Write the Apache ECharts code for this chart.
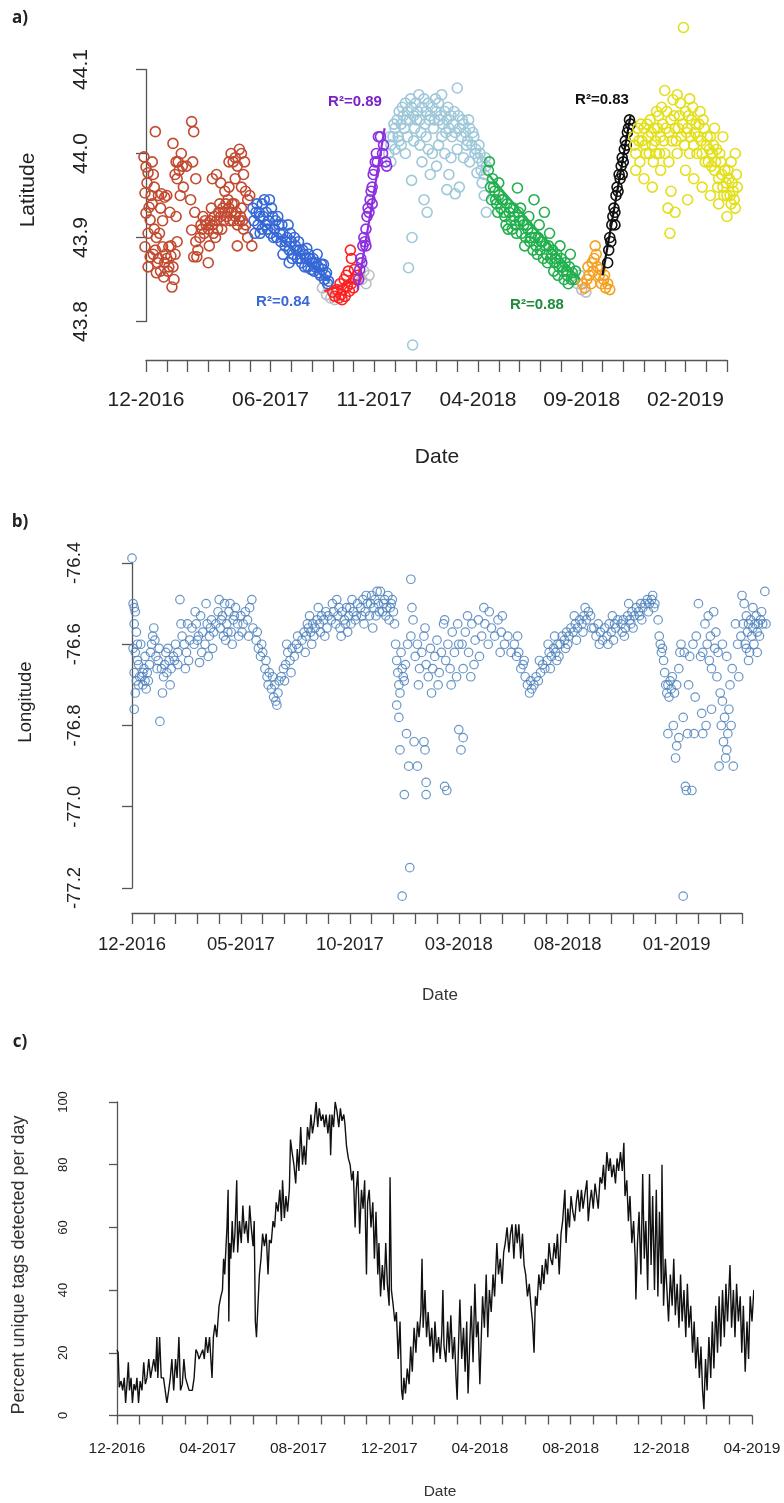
<!DOCTYPE html>
<html><head><meta charset="utf-8">
<script src="https://cdn.jsdelivr.net/npm/echarts@6/dist/echarts.min.js"></script>
<style>html,body{margin:0;padding:0;background:#fff}#c{width:784px;height:1503px}</style>
</head><body><div id="c"></div>
<script>
// x values: months since 1 Dec 2016
const aTickLabels = {0:'12-2016',6:'06-2017',11:'11-2017',16:'04-2018',21:'09-2018',26:'02-2019'};
const bTickLabels = {0:'12-2016',5:'05-2017',10:'10-2017',15:'03-2018',20:'08-2018',25:'01-2019'};
const cTickLabels = {0:'12-2016',4:'04-2017',8:'08-2017',12:'12-2017',16:'04-2018',20:'08-2018',24:'12-2018',28:'04-2019'};

const latGrey = [[8.5,43.84],[8.7,43.832],[8.9,43.828],[9.1,43.826],[8.8,43.84],[9.2,43.835],[10.3,43.87],[10.5,43.86],[10.6,43.845],[10.75,43.855],[10.4,43.85],[20.6,43.852],[20.8,43.845],[21.0,43.838],[21.2,43.835],[20.9,43.855]];
const latBrown = [[-0.1,43.996],[0.0,43.984],[0.1,43.977],[0.05,43.965],[-0.05,43.953],[0.15,43.936],[0.0,43.929],[0.2,43.921],[0.1,43.905],[-0.05,43.889],[0.2,43.877],[0.1,43.865],[0.45,44.026],[0.3,43.99],[0.35,43.975],[0.4,43.96],[0.25,43.95],[0.5,43.9],[0.45,43.885],[0.55,43.87],
[0.6,43.95],[0.75,43.952],[0.9,43.948],[0.65,43.905],[0.8,43.889],[0.95,43.88],[1.0,43.875],[1.1,43.889],[1.2,43.878],[1.3,43.865],[0.85,43.853],[1.05,43.86],[1.25,43.841],[1.4,43.88],[1.5,43.895],[1.15,43.93],[0.7,43.935],[1.45,43.925],
[1.3,44.012],[1.45,43.99],[1.6,43.98],[1.7,44.0],[1.5,43.97],[1.8,43.96],[1.95,43.985],[1.4,43.975],[1.65,43.95],
[2.2,44.038],[2.3,44.026],[2.25,43.99],[2.4,43.97],[2.15,43.945],[2.35,43.93],[2.2,43.909],[2.4,43.895],[2.3,43.877],[2.5,43.885],
[2.6,43.9],[2.7,43.91],[2.8,43.905],[2.9,43.915],[3.0,43.91],[3.1,43.92],[3.2,43.915],[3.3,43.925],[3.4,43.92],[3.5,43.93],[3.6,43.925],[3.7,43.935],[3.8,43.93],[3.9,43.925],[4.0,43.935],[4.1,43.93],[4.2,43.92],[4.3,43.925],[4.4,43.915],[4.5,43.92],[4.7,43.91],[4.9,43.9],[2.75,43.925],[3.05,43.89],[3.35,43.9],[3.65,43.91],[3.95,43.945],[4.25,43.94],[4.6,43.935],[3.15,43.935],
[3.4,43.975],[3.6,43.965],[3.2,43.97],[4.1,44.0],[4.3,43.995],[4.2,43.99],[4.5,44.005],[4.4,43.985],[4.0,43.96],[4.6,43.96],[4.8,43.955],[4.9,43.945],[4.7,43.975],[5.0,43.95],[3.8,43.955],
[2.45,43.877],[4.4,43.89],[5.1,43.89],[3.0,43.87],
[2.65,43.915],[2.85,43.92],[3.25,43.905],[3.45,43.91],[3.55,43.94],[3.75,43.92],[3.85,43.94],[4.05,43.92],[4.15,43.94],[4.35,43.93],[4.55,43.925],[4.65,43.92],[4.8,43.915],[0.35,43.88],[0.6,43.875],[0.7,43.86],[0.9,43.87],[1.1,43.865],[1.35,43.85],[0.5,43.858],[1.2,43.89],[0.4,43.91],[0.8,43.92],[1.0,43.95],[0.3,43.94],[1.55,43.99],[1.75,43.985],[4.0,43.99],[4.3,43.97],[4.75,43.99],[4.6,44.0]];
const latBlue = [[5.15,43.935],[5.2,43.92],[5.25,43.905],[5.3,43.93],[5.4,43.915],[5.5,43.925],[5.6,43.94],[5.7,43.945],[5.8,43.93],[5.85,43.91],[5.9,43.92],[6.0,43.905],[6.1,43.925],[6.2,43.91],[6.3,43.9],[6.4,43.915],[6.5,43.895],[6.6,43.905],[6.7,43.89],[6.8,43.9],[6.85,43.915],[6.9,43.885],[7.0,43.895],[7.1,43.88],[7.2,43.89],[7.3,43.875],[7.4,43.885],[7.5,43.87],[7.6,43.88],[7.7,43.875],[7.8,43.865],[7.9,43.875],[8.0,43.87],[8.1,43.86],[8.2,43.87],[8.3,43.865],[8.4,43.855],[8.5,43.862],[8.6,43.85],[8.7,43.858],[8.8,43.848],[5.5,43.905],[6.05,43.935],[6.6,43.88],[7.15,43.9],[7.75,43.887],[8.25,43.88],[8.55,43.868],[5.95,43.945],[6.35,43.925],
[5.35,43.94],[5.45,43.93],[5.65,43.925],[5.75,43.915],[6.15,43.9],[6.25,43.92],[6.45,43.905],[6.55,43.915],[6.75,43.895],[6.95,43.905],[7.05,43.875],[7.25,43.885],[7.35,43.895],[7.45,43.875],[7.55,43.885],[7.65,43.865],[7.85,43.88],[7.95,43.862],[8.05,43.875],[8.15,43.865],[8.35,43.858],[8.45,43.868],[8.65,43.855],[8.75,43.845],[5.6,43.91],[6.9,43.87]];
const latRed = [[9.0,43.835],[9.1,43.83],[9.2,43.838],[9.3,43.828],[9.4,43.832],[9.5,43.838],[9.6,43.83],[9.7,43.842],[9.8,43.836],[9.9,43.845],[10.0,43.84],[10.1,43.85],[9.35,43.845],[9.55,43.85],[9.75,43.86],[9.85,43.885],[9.9,43.875],[10.05,43.862],[9.65,43.855],[10.2,43.855],[9.45,43.826]];
const latPurple = [[10.25,43.85],[10.3,43.862],[10.35,43.875],[10.4,43.87],[10.45,43.89],[10.5,43.9],[10.55,43.895],[10.6,43.91],[10.65,43.925],[10.7,43.935],[10.75,43.93],[10.8,43.945],[10.85,43.955],[10.9,43.96],[10.95,43.975],[11.0,43.98],[11.05,43.99],[11.1,44.0],[11.2,44.02],[11.15,43.99],[11.3,44.02],[11.4,44.0],[11.55,43.99],[11.45,44.01],[11.6,43.985],[10.6,43.89],[10.9,43.94]];
const latLightBlue = [[11.7,44.0],[11.8,44.01],[11.9,44.02],[12.0,44.03],[12.1,44.04],[12.2,44.05],[12.3,44.035],[12.4,44.045],[12.5,44.06],[12.6,44.05],[12.7,44.04],[12.8,44.055],[12.9,44.045],[13.0,44.06],[13.1,44.05],[13.2,44.04],[13.3,44.055],[13.4,44.065],[13.5,44.05],[13.6,44.06],[13.7,44.045],[13.8,44.055],[13.9,44.04],[14.0,44.05],[14.1,44.06],[14.2,44.045],[14.3,44.035],[14.4,44.05],[14.5,44.04],[14.6,44.03],[14.7,44.045],[14.8,44.035],[14.9,44.025],[15.0,44.078],[15.1,44.03],[15.2,44.02],[15.3,44.035],[15.4,44.025],[15.5,44.015],[15.6,44.03],[15.7,44.01],[15.8,44.02],[15.9,44.005],[16.0,43.995],[16.1,44.0],[16.2,43.99],[16.3,43.975],[16.4,43.985],
[11.8,43.99],[12.0,44.005],[12.3,44.01],[12.6,44.02],[12.9,44.015],[13.2,44.01],[13.5,44.02],[13.8,44.0],[14.1,44.01],[14.4,44.0],[14.7,43.995],[15.0,44.005],[15.3,43.995],[15.6,43.99],[16.2,43.965],[12.5,44.0],[13.3,43.99],[14.0,43.985],
[12.82,43.9],[12.65,43.864],[12.85,43.772],[13.4,43.945],[13.55,43.93],[14.5,43.957],[15.1,43.96],[14.9,43.952],[12.8,43.968],[15.95,43.977],[16.4,43.93],[13.7,43.975],[14.6,43.975],[16.3,43.95],
[11.75,44.02],[11.95,44.035],[12.15,44.02],[12.35,44.055],[12.45,44.03],[12.55,44.04],[12.75,44.065],[12.95,44.03],[13.05,44.04],[13.15,44.07],[13.25,44.025],[13.45,44.035],[13.65,44.04],[13.85,44.03],[13.95,44.065],[14.15,44.04],[14.25,44.02],[14.45,44.025],[14.55,44.055],[14.75,44.02],[14.85,44.05],[15.05,44.045],[15.25,44.04],[15.45,44.01],[15.55,44.04],[15.75,44.025],[15.85,44.0],[16.05,44.01],[16.15,43.98],[16.35,43.995],[14.25,44.07],[13.6,44.005],[12.2,44.015]];
const latGreen = [[16.5,43.98],[16.6,43.96],[16.65,43.945],[16.7,43.97],[16.8,43.955],[16.9,43.94],[17.0,43.95],[17.1,43.935],[17.2,43.945],[17.3,43.925],[17.4,43.94],[17.5,43.93],[17.6,43.92],[17.7,43.935],[17.8,43.915],[17.9,43.959],[18.0,43.92],[18.1,43.905],[18.2,43.915],[18.3,43.9],[18.4,43.91],[18.5,43.895],[18.6,43.905],[18.7,43.945],[18.8,43.89],[18.9,43.9],[19.0,43.885],[19.1,43.895],[19.2,43.93],[19.3,43.88],[19.4,43.89],[19.5,43.875],[19.6,43.885],[19.7,43.87],[19.8,43.88],[19.9,43.865],[20.0,43.875],[20.1,43.86],[20.2,43.87],[20.3,43.855],[20.4,43.865],[20.5,43.85],[20.7,43.86],[16.55,43.99],[17.0,43.965],[17.45,43.91],[18.05,43.935],[18.45,43.925],[18.95,43.915],[19.45,43.905],[19.95,43.89],[20.45,43.88],
[16.75,43.96],[16.85,43.945],[16.95,43.93],[17.15,43.945],[17.25,43.93],[17.35,43.915],[17.55,43.935],[17.65,43.91],[17.75,43.925],[17.85,43.905],[17.95,43.93],[18.15,43.92],[18.25,43.89],[18.35,43.915],[18.55,43.9],[18.65,43.885],[18.75,43.9],[18.85,43.88],[19.05,43.895],[19.15,43.875],[19.25,43.89],[19.35,43.87],[19.55,43.88],[19.65,43.86],[19.75,43.875],[19.85,43.855],[20.05,43.865],[20.15,43.85],[20.25,43.86],[20.35,43.845],[20.55,43.858],[20.65,43.85]];
const latOrange = [[21.05,43.845],[21.15,43.84],[21.25,43.85],[21.35,43.855],[21.45,43.845],[21.55,43.86],[21.6,43.875],[21.65,43.89],[21.7,43.88],[21.75,43.865],[21.85,43.855],[21.95,43.845],[22.05,43.85],[22.15,43.84],[22.25,43.845],[22.35,43.838],[21.5,43.87],[21.9,43.862],[22.1,43.855],[21.3,43.865]];
const latBlack = [[22.25,43.87],[22.3,43.885],[22.35,43.9],[22.4,43.895],[22.45,43.915],[22.5,43.925],[22.55,43.935],[22.6,43.93],[22.65,43.95],[22.7,43.96],[22.75,43.955],[22.8,43.975],[22.85,43.97],[22.9,43.985],[22.95,43.995],[23.0,43.99],[23.05,44.005],[23.1,44.015],[23.15,44.01],[23.2,44.025],[23.25,44.03],[23.3,44.04],[23.35,44.035],[22.6,43.915],[22.95,43.975]];
const latYellow = [[23.5,44.02],[23.6,44.0],[23.7,44.03],[23.8,43.99],[23.9,44.015],[24.0,44.03],[24.1,44.0],[24.2,44.02],[24.3,44.04],[24.4,44.01],[24.5,44.03],[24.6,44.0],[24.7,44.045],[24.8,44.02],[24.9,44.035],[25.0,44.0],[25.1,44.05],[25.2,44.025],[25.3,44.04],[25.4,44.064],[25.5,44.03],[25.6,44.07],[25.7,44.045],[25.8,44.02],[25.9,44.15],[26.0,44.05],[26.1,44.03],[26.2,44.065],[26.3,44.04],[26.4,44.01],[26.5,44.035],[26.6,44.02],[26.7,44.05],[26.8,44.0],[26.9,44.03],[27.0,44.01],[27.1,43.99],[27.2,44.02],[27.3,44.0],[27.4,43.98],[27.5,44.005],[27.6,43.97],[27.7,43.99],[27.8,43.96],[27.9,43.98],[28.0,43.95],[28.1,43.97],[28.2,43.94],[28.3,43.955],[28.4,43.935],[28.5,43.96],
[23.6,43.98],[24.0,43.97],[24.4,43.96],[24.8,43.98],[25.2,43.99],[25.6,44.0],[26.0,43.98],[26.4,43.97],[26.8,43.96],[27.2,43.95],[27.6,43.94],[28.0,43.925],[28.4,44.0],[27.8,44.02],[27.4,44.03],[26.2,44.0],[24.6,44.05],[25.0,44.075],[25.3,43.955],[25.25,43.905],[25.5,43.93],[26.1,43.945],[25.15,43.935],[28.2,43.99],
[23.55,44.01],[23.75,44.015],[23.85,44.035],[24.05,44.01],[24.15,44.035],[24.25,44.0],[24.35,44.025],[24.45,43.99],[24.55,44.015],[24.65,44.03],[24.75,44.0],[24.85,44.055],[24.95,44.015],[25.05,44.03],[25.35,44.015],[25.45,44.045],[25.55,44.015],[25.65,44.03],[25.75,44.06],[25.85,44.035],[25.95,44.01],[26.05,44.025],[26.15,44.045],[26.25,44.02],[26.35,44.055],[26.45,44.025],[26.55,44.0],[26.65,44.035],[26.75,44.015],[26.85,44.04],[26.95,43.99],[27.05,44.02],[27.15,44.005],[27.25,43.985],[27.35,44.01],[27.45,43.99],[27.55,43.96],[27.65,44.0],[27.75,43.975],[27.85,43.95],[27.95,43.965],[28.05,43.98],[28.15,43.95],[28.25,43.965],[28.35,43.945],[28.45,43.975]];
// fitted segments (start, end)
const fitBlue = [[5.2,43.925],[8.8,43.848]];
const fitRed = [[8.6,43.836],[10.0,43.848]];
const fitPurple = [[10.2,43.838],[11.5,44.03]];
const fitGreen = [[16.5,43.975],[20.9,43.85]];
const fitBlack = [[22.0,43.855],[23.35,44.045]];
const r2Labels = ['R\u00b2=0.84','R\u00b2=0.89','R\u00b2=0.88','R\u00b2=0.83'];

const lonPoints = [[0.0,-76.388],[0.05,-76.5],[0.1,-76.51],[0.15,-76.52],[0.1,-76.55],[0.2,-76.57],[0.05,-76.61],[0.15,-76.62],[0.25,-76.6],[0.1,-76.67],[0.2,-76.69],[0.3,-76.7],[0.15,-76.72],[0.35,-76.68],[0.1,-76.76],[0.3,-76.65],
[0.45,-76.68],[0.5,-76.7],[0.55,-76.66],[0.6,-76.69],[0.65,-76.71],[0.7,-76.67],[0.75,-76.69],[0.8,-76.65],[0.85,-76.62],[0.9,-76.6],[0.95,-76.58],[1.0,-76.56],[1.05,-76.59],[1.1,-76.63],[1.15,-76.66],[1.2,-76.64],[1.28,-76.79],[0.6,-76.63],[0.4,-76.6],[1.25,-76.61],
[1.35,-76.66],[1.45,-76.68],[1.5,-76.65],[1.6,-76.67],[1.7,-76.64],[1.8,-76.66],[1.9,-76.63],[1.55,-76.62],[1.75,-76.7],[1.4,-76.72],[1.65,-76.61],
[2.0,-76.6],[2.1,-76.62],[2.2,-76.49],[2.25,-76.55],[2.3,-76.58],[2.4,-76.6],[2.5,-76.62],[2.55,-76.55],[2.6,-76.64],[2.65,-76.59],[2.1,-76.65],[2.45,-76.66],
[2.75,-76.56],[2.85,-76.6],[2.95,-76.55],[3.05,-76.58],[3.15,-76.53],[3.25,-76.57],[3.35,-76.6],[3.45,-76.55],[3.55,-76.58],[3.65,-76.54],[3.75,-76.57],[2.9,-76.52],[3.2,-76.62],[3.5,-76.63],[3.1,-76.645],[3.4,-76.5],[3.7,-76.61],
[3.85,-76.55],[3.95,-76.52],[4.05,-76.56],[4.15,-76.53],[4.25,-76.5],[4.35,-76.55],[4.45,-76.52],[4.55,-76.57],[4.65,-76.54],[4.75,-76.51],[4.85,-76.55],[4.0,-76.49],[4.3,-76.59],[4.6,-76.6],[4.9,-76.58],[4.2,-76.58],[4.5,-76.5],
[5.0,-76.53],[5.1,-76.55],[5.2,-76.52],[5.3,-76.54],[5.4,-76.51],[5.5,-76.49],[5.55,-76.56],[5.05,-76.57],[5.35,-76.58],
[5.7,-76.59],[5.8,-76.61],[5.9,-76.63],[6.0,-76.62],[6.1,-76.66],[6.2,-76.68],[6.3,-76.67],[5.75,-76.57],[5.95,-76.6],[6.15,-76.64],[6.25,-76.7],
[6.4,-76.71],[6.5,-76.73],[6.55,-76.7],[6.6,-76.74],[6.7,-76.72],[6.75,-76.69],[6.45,-76.68],[6.65,-76.75],
[6.85,-76.68],[6.95,-76.66],[7.05,-76.65],[7.15,-76.62],[7.25,-76.64],[7.35,-76.61],[7.45,-76.63],[7.55,-76.6],[7.65,-76.61],[7.0,-76.69],[7.3,-76.67],[7.6,-76.58],[7.1,-76.6],
[7.8,-76.59],[7.9,-76.57],[8.0,-76.58],[8.1,-76.56],[8.2,-76.57],[8.3,-76.55],[8.4,-76.56],[8.5,-76.54],[8.6,-76.55],[8.7,-76.53],[8.8,-76.54],[8.9,-76.52],[9.0,-76.53],[7.95,-76.62],[8.25,-76.6],[8.55,-76.51],[8.85,-76.58],[8.15,-76.53],
[9.15,-76.54],[9.25,-76.52],[9.35,-76.55],[9.45,-76.53],[9.55,-76.56],[9.65,-76.52],[9.75,-76.54],[9.85,-76.51],[9.95,-76.53],[10.05,-76.55],[10.15,-76.52],[10.25,-76.54],[10.35,-76.5],[9.4,-76.49],[9.9,-76.57],[10.1,-76.49],[9.6,-76.58],
[10.5,-76.51],[10.6,-76.49],[10.7,-76.52],[10.8,-76.5],[10.9,-76.53],[11.0,-76.48],[11.1,-76.51],[11.2,-76.53],[11.3,-76.5],[11.4,-76.47],[11.5,-76.52],[11.6,-76.49],[11.7,-76.51],[11.8,-76.54],[11.9,-76.5],[12.0,-76.52],[10.65,-76.55],[11.25,-76.47],[11.75,-76.48],[11.05,-76.56],[12.05,-76.55],
[12.1,-76.6],[12.15,-76.64],[12.2,-76.67],[12.25,-76.7],[12.3,-76.72],[12.15,-76.75],[12.35,-76.62],[12.4,-76.66],[12.45,-76.68],[12.5,-76.69],[12.55,-76.65],[12.25,-76.78],[12.6,-76.82],[12.3,-76.86],[12.7,-76.9],[12.5,-76.97],[12.75,-77.15],[12.4,-77.22],[12.8,-76.44],[12.85,-76.51],[12.9,-76.54],[12.65,-76.6],[12.8,-76.58],
[13.0,-76.63],[13.1,-76.6],[13.2,-76.66],[13.3,-76.62],[13.4,-76.58],[13.5,-76.65],[13.6,-76.68],[13.7,-76.61],[13.8,-76.66],[13.9,-76.63],[14.0,-76.59],[14.1,-76.67],[14.2,-76.62],[14.3,-76.55],[14.4,-76.64],[14.5,-76.6],[14.6,-76.66],[14.7,-76.57],[14.8,-76.62],[14.9,-76.68],[15.0,-76.6],[13.15,-76.7],[13.45,-76.56],[13.75,-76.72],[14.05,-76.7],[14.35,-76.54],[14.65,-76.7],[14.95,-76.55],
[12.95,-76.84],[13.4,-76.84],[13.45,-76.86],[13.1,-76.9],[13.5,-76.94],[13.5,-76.97],[14.35,-76.95],[14.45,-76.96],[15.0,-76.81],[15.2,-76.83],[15.1,-76.86],
[15.15,-76.6],[15.3,-76.57],[15.45,-76.62],[15.6,-76.55],[15.75,-76.59],[15.9,-76.54],[16.05,-76.58],[16.2,-76.55],[16.35,-76.6],[16.5,-76.56],[16.65,-76.58],[16.8,-76.54],[16.95,-76.57],[17.1,-76.6],[17.25,-76.58],[17.4,-76.62],[15.4,-76.53],[15.95,-76.63],[16.4,-76.52],[16.9,-76.62],[15.2,-76.66],[15.7,-76.65],[16.15,-76.51],[17.0,-76.53],[15.55,-76.68],
[17.55,-76.6],[17.65,-76.63],[17.75,-76.62],[17.85,-76.66],[17.95,-76.65],[18.05,-76.68],[18.15,-76.7],[18.25,-76.72],[18.35,-76.71],[17.7,-76.58],[18.0,-76.64],[18.3,-76.69],
[18.45,-76.7],[18.55,-76.68],[18.65,-76.69],[18.75,-76.67],[18.85,-76.65],[18.95,-76.66],[19.05,-76.64],[19.15,-76.62],[19.25,-76.63],[19.35,-76.61],[19.45,-76.62],[19.55,-76.6],[19.65,-76.6],[19.75,-76.58],[19.85,-76.59],[19.95,-76.57],[20.05,-76.58],[20.15,-76.56],[20.25,-76.57],[20.35,-76.55],[20.45,-76.56],[20.55,-76.54],[20.65,-76.55],[20.75,-76.53],[20.85,-76.54],[20.95,-76.52],[21.05,-76.53],[18.7,-76.64],[19.2,-76.66],[19.6,-76.63],[20.0,-76.6],[20.4,-76.59],[19.4,-76.58],[20.8,-76.51],
[21.2,-76.56],[21.3,-76.58],[21.4,-76.55],[21.5,-76.57],[21.6,-76.59],[21.7,-76.56],[21.8,-76.58],[21.9,-76.55],[22.0,-76.57],[22.1,-76.59],[22.2,-76.56],[22.3,-76.54],[21.45,-76.6],[21.85,-76.6],[22.05,-76.53],
[22.45,-76.55],[22.55,-76.54],[22.65,-76.56],[22.75,-76.53],[22.85,-76.54],[22.95,-76.52],[23.05,-76.53],[23.15,-76.51],[23.25,-76.52],[23.35,-76.5],[23.45,-76.51],[23.55,-76.5],[23.65,-76.49],[23.75,-76.5],[23.85,-76.49],[23.95,-76.51],[24.0,-76.5],[22.6,-76.58],[23.0,-76.56],[23.4,-76.54],[22.8,-76.5],
[24.15,-76.54],[24.2,-76.58],[24.25,-76.6],[24.3,-76.62],[24.35,-76.61],[24.4,-76.64],[24.45,-76.67],[24.5,-76.7],
[24.55,-76.72],[24.6,-76.7],[24.65,-76.73],[24.7,-76.69],[24.75,-76.71],[24.8,-76.68],[24.9,-76.72],[25.0,-76.7],[24.6,-76.82],[24.85,-76.8],[25.0,-76.85],[25.1,-76.83],[24.95,-76.88],[25.15,-76.62],[25.1,-76.66],
[25.2,-76.6],[25.3,-76.78],[25.4,-76.95],[25.45,-76.96],[25.5,-76.82],[25.55,-76.7],[25.6,-76.63],[25.7,-76.96],[25.75,-76.6],[25.85,-76.73],[25.3,-77.22],[25.35,-76.62],[25.9,-76.58],[26.0,-76.5],[26.1,-76.63],[26.15,-76.77],[26.2,-76.62],[26.3,-76.55],[26.35,-76.8],[26.4,-76.6],[26.45,-76.53],[26.5,-76.64],[26.55,-76.58],[26.6,-76.66],[26.7,-76.52],[26.75,-76.61],[26.8,-76.57],[26.85,-76.68],[26.9,-76.62],[27.0,-76.72],[27.05,-76.8],[27.1,-76.74],[27.15,-76.84],[27.2,-76.78],[27.25,-76.88],[27.3,-76.86],[27.35,-76.82],[27.4,-76.76],[27.45,-76.7],[27.5,-76.8],[27.6,-76.9],[27.55,-76.66],[27.7,-76.55],[27.8,-76.6],[27.85,-76.68],[27.1,-76.6],[27.3,-76.63],[26.6,-76.76],[26.2,-76.82],[25.8,-76.82],[26.95,-76.9],
[27.95,-76.58],[28.05,-76.55],[28.1,-76.5],[28.15,-76.6],[28.2,-76.53],[28.25,-76.57],[28.3,-76.55],[28.35,-76.62],[28.4,-76.54],[28.45,-76.58],[28.5,-76.56],[28.55,-76.6],[28.6,-76.55],[28.65,-76.53],[28.7,-76.57],[28.75,-76.55],[28.8,-76.58],[28.85,-76.54],[28.9,-76.52],[28.95,-76.55],[29.05,-76.47],[29.1,-76.55],[28.0,-76.48],[28.3,-76.64],[28.5,-76.51],[28.7,-76.62],[28.2,-76.61],
[8.05,-76.55],[8.35,-76.58],[8.65,-76.57],[8.95,-76.56],[9.2,-76.5],[9.5,-76.51],[9.8,-76.55],[10.0,-76.51],[10.3,-76.53],[10.55,-76.53],[10.75,-76.48],[10.95,-76.5],[11.15,-76.49],[11.35,-76.52],[11.55,-76.5],[11.65,-76.53],[11.85,-76.51],[11.95,-76.49],[19.1,-76.6],[19.5,-76.64],[19.9,-76.61],[20.3,-76.53],[20.7,-76.57],[21.1,-76.56],[22.15,-76.55],[22.5,-76.57],[22.9,-76.55],[23.3,-76.53],[23.7,-76.52],[23.9,-76.48],[3.0,-76.59],[3.6,-76.56],[4.1,-76.54],[4.4,-76.57],[4.7,-76.53],[1.95,-76.64],[0.25,-76.64],[0.5,-76.67]];

const pctDaily = [[0,21],[0.05,20],[0.1,9],[0.18,11],[0.25,8],[0.32,12],[0.38,4],[0.45,11],[0.5,17],[0.55,8],[0.62,12],[0.68,4],[0.75,10],[0.82,8],[0.88,12],[0.95,4],[1.02,11],[1.1,8],[1.18,17],[1.25,10],[1.32,12],[1.4,18],[1.48,12],[1.55,12],[1.62,18],[1.7,14],[1.76,25],[1.8,12],[1.88,25],[1.95,12],[2.05,12],[2.12,12],[2.2,4],[2.28,8],[2.35,12],[2.42,18],[2.5,8],[2.58,18],[2.65,12],[2.73,25],[2.8,8],[2.88,10],[2.95,18],[3.02,12],[3.1,10],[3.18,8],[3.25,8],[3.32,8],[3.4,12],[3.48,21],[3.55,20],[3.62,18],[3.7,18],[3.78,21],[3.85,18],[3.92,25],[4.0,20],[4.08,25],[4.15,25],[4.19,12],[4.25,25],[4.32,29],[4.4,25],[4.5,35],[4.58,38],[4.65,40],[4.7,50],[4.75,45],[4.8,53],[4.85,60],[4.9,72],[4.93,30],[4.97,55],[5.02,50],[5.08,62],[5.14,52],[5.2,58],[5.28,75],[5.32,52],[5.4,62],[5.48,55],[5.55,67],[5.62,58],[5.7,62],[5.78,55],[5.85,67],[5.92,60],[6.0,54],[6.05,62],[6.1,30],[6.15,25],[6.2,33],[6.28,45],[6.35,50],[6.42,58],[6.5,54],[6.58,58],[6.66,45],[6.72,56],[6.8,55],[6.88,62],[6.95,60],[7.02,68],[7.1,65],[7.18,72],[7.25,62],[7.3,75],[7.38,63],[7.45,70],[7.52,65],[7.6,72],[7.65,88],[7.72,84],[7.8,80],[7.88,74],[7.95,85],[8.02,78],[8.1,92],[8.18,80],[8.25,86],[8.32,80],[8.4,92],[8.48,88],[8.55,96],[8.62,90],[8.7,94],[8.78,100],[8.85,92],[8.92,98],[9.0,94],[9.08,96],[9.15,92],[9.22,96],[9.3,90],[9.38,96],[9.42,83],[9.48,96],[9.55,92],[9.62,100],[9.7,97],[9.78,92],[9.85,98],[9.92,94],[10.0,96],[10.05,93],[10.12,86],[10.2,82],[10.28,80],[10.35,75],[10.42,78],[10.5,60],[10.55,72],[10.62,78],[10.7,58],[10.78,72],[10.85,66],[10.92,75],[11.0,45],[11.05,68],[11.12,72],[11.2,60],[11.28,68],[11.35,50],[11.42,65],[11.5,45],[11.55,55],[11.62,38],[11.7,48],[11.78,40],[11.85,55],[11.92,42],[12.0,35],[12.04,76],[12.1,40],[12.18,35],[12.25,30],[12.32,33],[12.4,18],[12.48,30],[12.55,8],[12.6,5],[12.65,12],[12.72,7],[12.8,15],[12.88,10],[12.95,22],[13.02,14],[13.1,28],[13.18,20],[13.25,30],[13.32,25],[13.4,33],[13.45,50],[13.5,28],[13.58,40],[13.65,25],[13.72,33],[13.8,22],[13.88,28],[13.95,17],[14.02,30],[14.1,20],[14.18,25],[14.25,18],[14.32,26],[14.37,40],[14.42,22],[14.5,17],[14.58,30],[14.65,20],[14.72,32],[14.8,18],[14.88,25],[14.95,12],[15.0,5],[15.05,20],[15.12,37],[15.2,18],[15.28,28],[15.35,14],[15.42,30],[15.48,7],[15.55,22],[15.62,35],[15.7,17],[15.78,42],[15.85,25],[15.92,30],[16.0,10],[16.05,22],[16.12,38],[16.2,28],[16.28,45],[16.35,25],[16.42,40],[16.5,33],[16.58,45],[16.65,38],[16.75,55],[16.82,45],[16.9,50],[16.98,42],[17.05,52],[17.12,55],[17.2,60],[17.28,52],[17.35,58],[17.42,61],[17.5,50],[17.58,61],[17.65,55],[17.72,61],[17.8,50],[17.88,58],[17.95,48],[18.02,45],[18.1,38],[18.18,42],[18.25,35],[18.32,30],[18.39,20],[18.45,38],[18.52,35],[18.6,45],[18.68,40],[18.75,48],[18.82,42],[18.9,50],[18.98,45],[19.05,55],[19.12,50],[19.2,48],[19.28,55],[19.35,50],[19.42,58],[19.5,45],[19.58,58],[19.65,62],[19.75,72],[19.8,55],[19.88,66],[19.95,60],[20.02,70],[20.1,65],[20.18,62],[20.25,68],[20.32,72],[20.4,65],[20.48,72],[20.55,66],[20.62,70],[20.72,75],[20.78,62],[20.85,68],[20.92,72],[21.0,66],[21.08,74],[21.15,70],[21.22,66],[21.3,76],[21.38,74],[21.45,80],[21.52,72],[21.6,84],[21.68,78],[21.75,82],[21.82,76],[21.9,80],[21.98,74],[22.05,82],[22.12,78],[22.2,84],[22.28,78],[22.35,87],[22.4,70],[22.48,75],[22.55,62],[22.62,70],[22.7,55],[22.78,62],[22.85,50],[22.88,37],[22.95,55],[23.02,65],[23.1,45],[23.18,77],[23.25,50],[23.32,62],[23.4,40],[23.48,77],[23.55,48],[23.62,70],[23.7,40],[23.78,72],[23.85,38],[23.92,65],[24.0,42],[24.03,80],[24.1,35],[24.18,50],[24.25,40],[24.32,30],[24.4,45],[24.48,35],[24.55,50],[24.62,32],[24.7,42],[24.78,28],[24.85,45],[24.92,30],[25.0,40],[25.08,25],[25.15,42],[25.22,28],[25.3,35],[25.38,20],[25.45,30],[25.52,15],[25.6,25],[25.68,12],[25.75,22],[25.82,8],[25.88,2],[25.95,18],[26.02,8],[26.1,25],[26.18,12],[26.25,30],[26.32,15],[26.4,35],[26.48,20],[26.55,38],[26.62,22],[26.7,40],[26.78,25],[26.85,42],[26.92,30],[27.03,48],[27.1,28],[27.18,40],[27.25,25],[27.32,42],[27.4,30],[27.48,38],[27.55,20],[27.62,35],[27.7,14],[27.78,30],[27.85,18],[27.92,38],[28.0,30],[28.08,40],[28.15,35],[28.22,45],[28.3,38],[28.38,52],[28.45,42],[28.52,55],[28.6,48],[28.66,56],[28.72,45],[28.8,52],[28.88,40],[28.95,50],[29.0,22]];

const FONT = "'Liberation Sans', Arial, sans-serif";
const AX = '#555';
function xAx(gi, labels, fs, margin, tick, off) {
  return {type:'value', gridIndex:gi, min:0, max:28, interval:1, offset:off,
    axisLine:{show:true, lineStyle:{color:AX, width:1.3}},
    axisTick:{show:true, length:tick, lineStyle:{color:AX, width:1.3}},
    splitLine:{show:false}, showMinLabel:true, showMaxLabel:true,
    axisLabel:{fontFamily:FONT, fontSize:fs, color:'#222', margin:margin,
      formatter:v => labels[Math.round(v)] || ''}};
}
function yAx(gi, min, max, iv, fs, margin, tick, off, dec) {
  return {type:'value', gridIndex:gi, min:min, max:max, interval:iv, offset:off,
    axisLine:{show:true, lineStyle:{color:AX, width:1.3}},
    axisTick:{show:true, length:tick, lineStyle:{color:AX, width:1.3}},
    splitLine:{show:false},
    axisLabel:{fontFamily:FONT, fontSize:fs, color:'#222', margin:margin, rotate:90,
      formatter:v => (+v).toFixed(dec)}};
}
function sc(data, color, size, bw, op) {
  return {type:'scatter', xAxisIndex:0, yAxisIndex:0, data:data, symbol:'circle', symbolSize:size, clip:false,
    silent:true, itemStyle:{color:'rgba(0,0,0,0)', borderColor:color, borderWidth:bw, opacity:op}};
}
function fit(data, color) {
  return {type:'line', xAxisIndex:0, yAxisIndex:0, data:data, showSymbol:false, clip:false, silent:true,
    lineStyle:{color:color, width:2.2}};
}
function txt(x, y, s, fs, color, rot, weight, family) {
  return {type:'text', x:x, y:y, rotation:rot||0, silent:true,
    style:{text:s, fontSize:fs, fontFamily:family||FONT, fill:color||'#222', fontWeight:weight||'normal', align:'center', verticalAlign:'middle'}};
}

const C = {grey:'#b9bfc5', brown:'#c24a30', blue:'#3668d6', red:'#ff2020', purple:'#8b2fe0', lblue:'#9fc8da', green:'#22b04e', orange:'#f5a020', black:'#111111', yellow:'#e3df1a'};

const chart = echarts.init(document.getElementById('c'), null, {renderer:'canvas'});
chart.setOption({
  animation:false, backgroundColor:'#fff',
  grid:[
    {left:146, width:581, top:69.5, height:252},
    {left:132, width:610, top:563, height:325},
    {left:117, width:635, top:1102, height:313.5}
  ],
  xAxis:[xAx(0,aTickLabels,21,30,12,38.5), xAx(1,bTickLabels,18.5,22,11,25), xAx(2,cTickLabels,15.5,18,9,7)],
  yAxis:[yAx(0,43.8,44.1,0.1,21,30,10,24,1), yAx(1,-77.2,-76.4,0.2,18.5,22,10,26,1), yAx(2,0,100,20,13,20,8,27,0)],
  series:[
    sc(latGrey,C.grey,10,1.6,1), sc(latBrown,C.brown,10,1.6,1), sc(latBlue,C.blue,10,1.6,1), sc(latRed,C.red,10,1.6,1),
    sc(latLightBlue,C.lblue,10,1.6,1), sc(latPurple,C.purple,10,1.6,1), sc(latGreen,C.green,10,1.6,1),
    sc(latOrange,C.orange,10,1.6,1), sc(latBlack,C.black,10,1.6,1), sc(latYellow,C.yellow,10,1.6,1),
    fit(fitBlue,C.blue), fit(fitRed,C.red), fit(fitPurple,C.purple), fit(fitGreen,C.green), fit(fitBlack,C.black),
    Object.assign(sc(lonPoints,'#4f83bd',8.5,1.2,0.85), {xAxisIndex:1, yAxisIndex:1}),
    {type:'line', xAxisIndex:2, yAxisIndex:2, data:pctDaily, showSymbol:false, clip:false, silent:true,
      lineStyle:{color:'#111', width:1.4}}
  ],
  graphic:[
    txt(20,18,'a)',17,'#222',0,'bold',"'Open Sans', sans-serif"),
    txt(20,522,'b)',17,'#222',0,'bold',"'Open Sans', sans-serif"),
    txt(20,1042,'c)',17,'#222',0,'bold',"'Open Sans', sans-serif"),
    txt(28,190,'Latitude',21,'#222',Math.PI/2),
    txt(437,457,'Date',21,'#222'),
    txt(26,702,'Longitude',18.5,'#222',Math.PI/2),
    txt(440,995,'Date',17,'#333'),
    txt(19,1265,'Percent unique tags detected per day',18,'#333',Math.PI/2),
    txt(440,1492,'Date',15.5,'#333'),
    txt(283,302,r2Labels[0],15,C.blue,0,'bold'),
    txt(355,102,r2Labels[1],15,'#7a22c8',0,'bold'),
    txt(537,305,r2Labels[2],15,'#1e8c3a',0,'bold'),
    txt(602,100,r2Labels[3],15,'#111',0,'bold')
  ]
});
</script></body></html>
